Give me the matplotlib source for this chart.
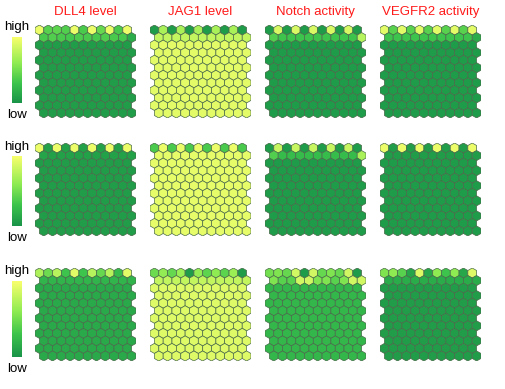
import numpy as np
import matplotlib
matplotlib.use("Agg")
import matplotlib.pyplot as plt
from matplotlib.collections import PolyCollection
from matplotlib.colors import LinearSegmentedColormap

plt.rcParams['font.family'] = ['Liberation Sans', 'DejaVu Sans']

# lattice size
n_cols = 11
n_rows = 12

titles = ["DLL4 level", "JAG1 level", "Notch activity", "VEGFR2 activity"]

# value of the bulk cells, per panel (rows x columns of panels)
base = [[0.06, 0.92, 0.05, 0.05],
        [0.06, 0.93, 0.05, 0.05],
        [0.13, 0.90, 0.22, 0.06]]

# first (top) lattice row, per panel
top_row = [
    [[0.95, 0.40, 0.42, 0.38, 0.95, 0.35, 0.95, 0.45, 0.95, 0.35, 0.95],
     [0.05, 0.70, 0.05, 0.70, 0.05, 0.70, 0.05, 0.70, 0.05, 0.70, 0.05],
     [0.05, 0.88, 0.05, 0.88, 0.05, 0.88, 0.05, 0.88, 0.05, 0.88, 0.05],
     [0.92, 0.40, 0.92, 0.40, 0.92, 0.40, 0.92, 0.40, 0.92, 0.40, 0.92]],
    [[0.95, 0.08, 0.95, 0.08, 0.95, 0.08, 0.95, 0.08, 0.95, 0.08, 0.95],
     [0.35, 0.95, 0.35, 0.95, 0.35, 0.95, 0.35, 0.95, 0.35, 0.95, 0.35],
     [0.05, 0.82, 0.05, 0.82, 0.05, 0.82, 0.05, 0.82, 0.05, 0.82, 0.05],
     [0.95, 0.06, 0.95, 0.06, 0.95, 0.06, 0.95, 0.06, 0.95, 0.06, 0.95]],
    [[0.72, 0.48, 0.75, 0.30, 0.92, 0.30, 0.75, 0.45, 0.75, 0.25, 0.92],
     [0.48, 0.62, 0.45, 0.65, 0.05, 0.62, 0.42, 0.60, 0.42, 0.65, 0.05],
     [0.50, 0.55, 0.45, 0.85, 0.05, 0.85, 0.45, 0.55, 0.45, 0.85, 0.05],
     [0.55, 0.60, 0.40, 0.10, 0.90, 0.12, 0.60, 0.30, 0.60, 0.12, 0.90]],
]

# second lattice row, per panel
second_row = [
    [[0.35, 0.38, 0.35, 0.33, 0.36, 0.35, 0.34, 0.36, 0.35, 0.33, 0.15],
     [0.80, 0.80, 0.80, 0.80, 0.80, 0.80, 0.80, 0.80, 0.80, 0.80, 0.80],
     [0.38, 0.30, 0.30, 0.30, 0.30, 0.30, 0.30, 0.30, 0.30, 0.30, 0.75],
     [0.30, 0.30, 0.30, 0.30, 0.30, 0.30, 0.30, 0.30, 0.30, 0.30, 0.15]],
    [[0.10, 0.08, 0.08, 0.08, 0.08, 0.08, 0.08, 0.08, 0.08, 0.08, 0.08],
     [0.93, 0.93, 0.93, 0.93, 0.93, 0.93, 0.93, 0.93, 0.93, 0.93, 0.93],
     [0.38, 0.25, 0.25, 0.25, 0.25, 0.25, 0.25, 0.25, 0.25, 0.25, 0.70],
     [0.06, 0.06, 0.06, 0.06, 0.06, 0.06, 0.06, 0.06, 0.06, 0.06, 0.06]],
    [[0.20, 0.20, 0.20, 0.20, 0.20, 0.20, 0.20, 0.20, 0.20, 0.20, 0.20],
     [0.80, 0.80, 0.80, 0.80, 0.80, 0.80, 0.80, 0.80, 0.80, 0.80, 0.80],
     [0.55, 0.40, 0.40, 0.85, 0.85, 0.55, 0.55, 0.40, 0.55, 0.85, 0.85],
     [0.15, 0.15, 0.15, 0.15, 0.15, 0.15, 0.15, 0.15, 0.15, 0.15, 0.15]],
]

cmap = LinearSegmentedColormap.from_list(
    "gy", [(0.0, "#1a9448"), (0.3, "#3cc44c"), (0.6, "#8eeb52"), (1.0, "#f8ff6c")])

W, H = 506, 389
fig = plt.figure(figsize=(W / 100, H / 100), dpi=100)

panel_left = [35, 150, 265, 380]
panel_top = [25, 143, 268]
panel_w, panel_h = 101, 93

# colour bar placement (pixels): high label, bar top, bar bottom, low label
cbar_px = [(27, 37, 103, 115), (147, 156, 226, 238), (271, 281, 357, 369)]

r = 1.0
w = np.sqrt(3) * r
hex_angles = np.deg2rad(np.arange(6) * 60 + 30)
hx = r * np.cos(hex_angles)
hy = r * np.sin(hex_angles)


def lattice(values):
    polys = []
    for i in range(n_rows):
        for j in range(n_cols):
            cx = j * w + (i % 2) * w / 2
            cy = -i * 1.5 * r
            polys.append(np.column_stack([cx + hx, cy + hy]))
    return polys


for pr in range(3):
    for pc in range(4):
        vals = np.full((n_rows, n_cols), base[pr][pc])
        vals[0] = top_row[pr][pc]
        vals[1] = second_row[pr][pc]
        left = panel_left[pc] / W
        bottom = 1 - (panel_top[pr] + panel_h) / H
        ax = fig.add_axes([left, bottom, panel_w / W, panel_h / H])
        coll = PolyCollection(lattice(vals), array=vals.ravel(), cmap=cmap,
                              edgecolors="#4a6a4a", linewidths=0.5)
        coll.set_clim(0, 1)
        ax.add_collection(coll)
        ax.set_xlim(-w / 2, 10.5 * w + w / 2)
        ax.set_ylim(-(n_rows - 1) * 1.5 * r - r, r)
        ax.axis("off")
        if pr == 0:
            fig.text((panel_left[pc] + panel_w / 2) / W, 1 - 12 / H, titles[pc],
                     color="#ff1a1a", fontsize=9.5, ha="center", va="center")

    hi, b0, b1, lo = cbar_px[pr]
    cax = fig.add_axes([12 / W, 1 - b1 / H, 10 / W, (b1 - b0) / H])
    grad = np.linspace(1, 0, 100).reshape(-1, 1)
    cax.imshow(grad, aspect="auto", cmap=cmap, vmin=0, vmax=1)
    cax.axis("off")
    fig.text(17 / W, 1 - hi / H, "high", fontsize=9.5, ha="center", va="center")
    fig.text(17 / W, 1 - lo / H, "low", fontsize=9.5, ha="center", va="center")

fig.savefig("out.png", dpi=100)
